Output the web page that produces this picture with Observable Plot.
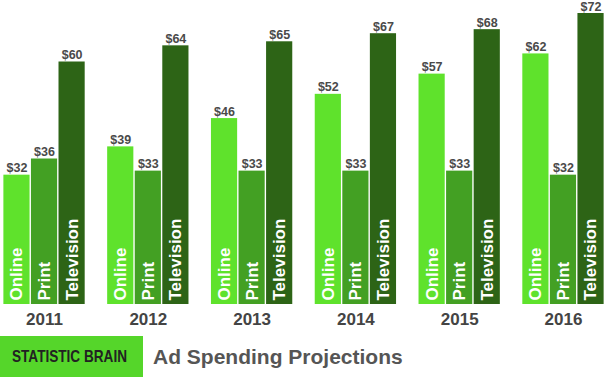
<!DOCTYPE html>
<html>
<head>
<meta charset="utf-8">
<script src="https://cdn.jsdelivr.net/npm/d3@7"></script>
<script src="https://cdn.jsdelivr.net/npm/@observablehq/plot@0.6"></script>
<style>
  body { margin: 0; background: #fff; font-family: "Liberation Sans", Arial, Helvetica, sans-serif; }
  #chart svg { display: block; }
  #footer { position: relative; height: 41px; margin-top: 6px; }
  #brand { position: absolute; left: 0; top: 0; width: 143px; height: 41px; background: #55d62a; }
  #brand span { position: absolute; left: 12px; top: 11px; font-family: "Liberation Sans Narrow", "Liberation Sans", Arial, sans-serif; font-weight: bold; font-size: 17px; color: #222; white-space: nowrap; display: inline-block; transform-origin: 0 0; }
  #title { position: absolute; left: 153px; top: 9px; font-weight: bold; font-size: 21px; color: #555; white-space: nowrap; }
</style>
</head>
<body>
<div id="chart"></div>
<div id="footer"><div id="brand"><span id="brandText">STATISTIC BRAIN</span></div><div id="title">Ad Spending Projections</div></div>
<script>
const years = ["2011", "2012", "2013", "2014", "2015", "2016"];
const categories = ["Online", "Print", "Television"];
const online = [32, 39, 46, 52, 57, 62];
const print = [36, 33, 33, 33, 33, 32];
const television = [60, 64, 65, 67, 68, 72];
const colors = ["#5fe22c", "#43a023", "#2d6416"];

const series = [online, print, television];
const data = [];
years.forEach((yr, i) => {
  categories.forEach((c, j) => data.push({year: yr, category: c, value: series[j][i]}));
});

const chart = Plot.plot({
  width: 606,
  height: 330,
  marginTop: 13,
  marginBottom: 26,
  marginLeft: 2,
  marginRight: 1,
  style: {fontFamily: "'Liberation Sans', Arial, Helvetica, sans-serif", background: "#fff"},
  fx: {domain: years, paddingInner: 0.19, paddingOuter: 0, round: false, label: null},
  x: {domain: categories, padding: 0.05, round: false, axis: null},
  y: {domain: [0, 72], axis: null},
  color: {domain: categories, range: colors},
  marks: [
    Plot.barY(data, {fx: "year", x: "category", y: "value", fill: "category"}),
    Plot.text(data, {fx: "year", x: "category", y: "value", text: d => "$" + d.value, dy: -7, fontSize: 12.5, fontWeight: "bold", fill: "#4a4a4a"}),
    Plot.text(data, {fx: "year", x: "category", y: 0, text: "category", rotate: -90, textAnchor: "start", lineAnchor: "middle", dy: -4, fontSize: 17, fontWeight: "bold", fill: "#fff"}),
    Plot.axisFx({anchor: "bottom", tickSize: 0, tickPadding: 8, fontSize: 17, fontWeight: "bold", fill: "#444", label: null})
  ]
});
document.getElementById("chart").appendChild(chart);

// fit brand text width
const bt = document.getElementById("brandText");
const w = bt.getBoundingClientRect().width;
if (w > 0) bt.style.transform = `scaleX(${115 / w})`;
</script>
</body>
</html>
